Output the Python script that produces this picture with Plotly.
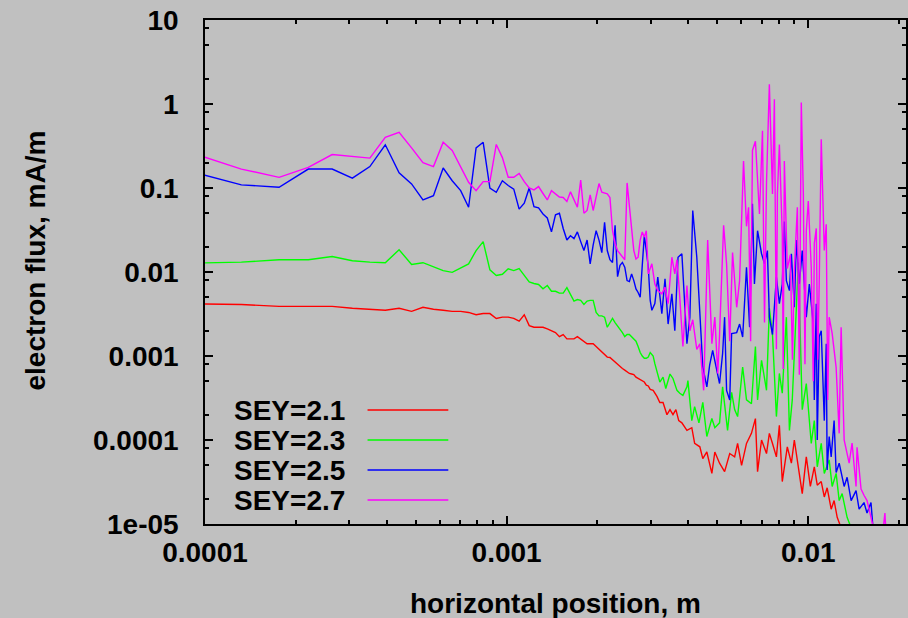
import numpy as np
import plotly.graph_objects as go

# Horizontal sample positions (mm) of the evenly spaced bins up to 3 mm
pos_head_mm = [0.088, 0.132, 0.176, 0.22, 0.264, 0.308, 0.352, 0.396, 0.44, 0.484,
               0.528, 0.572, 0.616, 0.66, 0.704, 0.748, 0.792, 0.836, 0.88, 0.924,
               0.968, 1.012, 1.056, 1.1, 1.144, 1.188, 1.232, 1.276, 1.32, 1.364,
               1.408, 1.452, 1.496, 1.54, 1.584, 1.628, 1.672, 1.716, 1.76, 1.804,
               1.848, 1.892, 1.936, 1.98, 2.024, 2.068, 2.112, 2.156, 2.2, 2.244,
               2.288, 2.332, 2.376, 2.42, 2.464, 2.508, 2.552, 2.596, 2.64, 2.684,
               2.728, 2.772, 2.816, 2.86, 2.904, 2.948, 2.992]

# ---- SEY = 2.1 (mA/m) ----
sey21_head = [0.0042, 0.0041, 0.0039, 0.0039, 0.0039, 0.0037, 0.0036, 0.0035, 0.0037, 0.0034,
              0.0038, 0.0036, 0.0035, 0.0034, 0.0034, 0.0033, 0.0031, 0.0032, 0.0032, 0.0028,
              0.0029, 0.0029, 0.0028, 0.0026, 0.0031, 0.0023, 0.0022, 0.0022, 0.0022, 0.0021,
              0.0020, 0.0019, 0.0017, 0.0018, 0.0016, 0.0016, 0.0016, 0.0017, 0.0016, 0.0015,
              0.0014, 0.0014, 0.0014, 0.0013, 0.0012, 0.0011, 0.00102, 0.00097, 0.00096, 0.0009,
              0.00084, 0.00079, 0.00074, 0.00071, 0.00068, 0.00064, 0.00062, 0.00061, 0.0006, 0.00056,
              0.00054, 0.00052, 0.0005, 0.00049, 0.00045, 0.00044, 0.0004]
sey21_tail_mm = [3.06, 3.15, 3.22, 3.30, 3.40, 3.48, 3.56, 3.64, 3.72, 3.81,
                 3.96, 4.11, 4.20, 4.37, 4.47, 4.61, 4.79, 4.90, 5.08, 5.28,
                 5.49, 5.70, 5.83, 6.01, 6.24, 6.48, 6.68, 6.79, 7.00, 7.27,
                 7.43, 7.61, 7.84, 8.02, 8.20, 8.52, 8.79, 8.99, 9.34, 9.55,
                 9.85, 10.16, 10.47, 10.71, 11.04, 11.30, 11.55, 11.91, 12.18, 12.47,
                 12.85]
sey21_tail = [0.00039, 0.00033, 0.00028, 0.00028, 0.0002, 0.00023, 0.0002, 0.00023, 0.00017, 0.00016,
              0.00013, 0.00014, 9.1e-5, 8.3e-5, 6.0e-5, 7.2e-5, 4.0e-5, 7.2e-5, 5.3e-5, 4.2e-5,
              6.9e-5, 6.3e-5, 9.1e-5, 5.0e-5, 9.1e-5, 1.2e-4, 1.8e-4, 4.2e-5, 1.0e-4, 6.9e-5,
              1.2e-4, 9.1e-5, 6.3e-5, 1.5e-4, 3.2e-5, 8.3e-5, 5.3e-5, 1.0e-4, 4.0e-5, 2.3e-5,
              6.3e-5, 2.8e-5, 4.8e-5, 2.9e-5, 3.2e-5, 2.1e-5, 2.7e-5, 1.5e-5, 1.9e-5, 1.2e-5,
              9e-6]

# ---- SEY = 2.3 ----
sey23_head = [0.0127, 0.0131, 0.014, 0.014, 0.0153, 0.0136, 0.0131, 0.0129, 0.0184, 0.0123,
              0.0129, 0.0116, 0.0104, 0.0099, 0.0113, 0.0125, 0.018, 0.023, 0.0106, 0.0091,
              0.0094, 0.0109, 0.0104, 0.011, 0.0091, 0.0076, 0.0073, 0.0071, 0.0063, 0.0069,
              0.0059, 0.0059, 0.0056, 0.0056, 0.0065, 0.0055, 0.0045, 0.0047, 0.0046, 0.0041,
              0.0045, 0.0046, 0.0046, 0.0033, 0.003, 0.003, 0.0029, 0.0022, 0.0025, 0.0028,
              0.0025, 0.0023, 0.0021, 0.0019, 0.0017, 0.0018, 0.0018, 0.0017, 0.0016, 0.0015,
              0.0013, 0.0011, 0.001, 0.00094, 0.00094, 0.00097, 0.0011]
sey23_tail_mm = [3.06, 3.10, 3.17, 3.22, 3.30, 3.37, 3.48, 3.56, 3.67, 3.75,
                 3.84, 3.96, 3.99, 4.11, 4.20, 4.34, 4.47, 4.61, 4.79, 4.90,
                 5.08, 5.20, 5.40, 5.57, 5.70, 5.83, 6.06, 6.24, 6.48, 6.68,
                 6.79, 7.00, 7.27, 7.43, 7.61, 7.84, 8.02, 8.20, 8.46, 8.66,
                 8.85, 9.27, 9.55, 9.85, 10.23, 10.47, 10.71, 11.04, 11.30, 11.73,
                 12.0, 12.37, 12.66, 12.95, 13.45, 13.87]
sey23_tail = [0.001, 0.00081, 0.00062, 0.00049, 0.00056, 0.00041, 0.00061, 0.00054, 0.00039, 0.00036,
              0.00034, 0.00043, 0.00051, 0.00017, 0.00025, 0.00016, 0.00028, 0.00011, 0.00018, 0.00014,
              0.00016, 0.00043, 0.00013, 0.00037, 0.00023, 0.00019, 0.00074, 0.0003, 0.00027, 0.0013,
              0.0003, 0.00089, 0.00039, 0.0037, 0.0018, 0.00019, 0.00062, 0.00036, 0.0029, 0.00013,
              0.0003, 0.013, 0.00023, 0.00047, 9.1e-5, 0.00017, 4.8e-5, 9.1e-5, 4.0e-5, 5.8e-5,
              2.8e-5, 4.0e-5, 1.9e-5, 2.3e-5, 1.2e-5, 9e-6]

# ---- SEY = 2.5 ----
sey25_head = [0.16, 0.109, 0.102, 0.168, 0.168, 0.131, 0.18, 0.327, 0.152, 0.112,
              0.072, 0.081, 0.173, 0.122, 0.093, 0.059, 0.3, 0.35, 0.1, 0.089,
              0.122, 0.107, 0.097, 0.056, 0.066, 0.1, 0.06, 0.058, 0.049, 0.044,
              0.03, 0.048, 0.05, 0.033, 0.024, 0.027, 0.025, 0.03, 0.023, 0.018,
              0.024, 0.0125, 0.021, 0.031, 0.024, 0.017, 0.039, 0.018, 0.014, 0.013,
              0.036, 0.0088, 0.012, 0.013, 0.0114, 0.0079, 0.0077, 0.0095, 0.0079, 0.0063,
              0.0057, 0.005, 0.012, 0.027, 0.018, 0.0114, 0.0046]
sey25_tail_mm = [3.03, 3.10, 3.17, 3.27, 3.35, 3.43, 3.53, 3.61, 3.70, 3.81,
                 3.96, 4.05, 4.14, 4.27, 4.37, 4.47, 4.61, 4.71, 4.82, 4.97,
                 5.08, 5.20, 5.28, 5.36, 5.49, 5.57, 5.79, 5.92, 6.06, 6.24,
                 6.39, 6.53, 6.63, 6.79, 7.00, 7.16, 7.32, 7.43, 7.61, 7.84,
                 8.02, 8.20, 8.33, 8.46, 8.66, 8.79, 8.99, 9.13, 9.34, 9.55,
                 9.85, 10.08, 10.39, 10.47, 10.63, 10.71, 10.87, 11.04, 11.30, 11.47,
                 11.55, 11.73, 11.91, 12.18, 12.37, 12.66, 13.15, 13.45, 13.87, 14.4,
                 14.74, 15.3, 15.66, 16.14, 16.39]
sey25_tail = [0.0035, 0.0042, 0.0087, 0.0032, 0.0083, 0.0024, 0.0055, 0.002, 0.015, 0.0165,
              0.0014, 0.0029, 0.054, 0.015, 0.0032, 0.00074, 0.00043, 0.00078, 0.00117, 0.00068,
              0.00047, 0.00107, 0.0029, 0.00039, 0.0003, 0.00185, 0.0019, 0.0024, 0.00168, 0.0114,
              0.0022, 0.065, 0.0072, 0.031, 0.0165, 0.0125, 0.018, 0.0029, 0.0018, 0.0087,
              0.0042, 0.0072, 0.04, 0.0079, 0.006, 0.0165, 0.0038, 0.024, 0.0072, 0.018,
              0.0029, 0.0072, 0.0024, 0.0003, 0.0042, 0.0001, 0.0017, 0.002, 0.00017, 0.0014,
              4.4e-5, 0.00011, 6.3e-5, 0.00017, 4.1e-5, 5.3e-5, 2.8e-5, 3.6e-5, 1.9e-5, 2.5e-5,
              1.5e-5, 1.8e-5, 1.35e-5, 1.8e-5, 9e-6]

# ---- SEY = 2.7 ----
sey27_head = [0.27, 0.168, 0.134, 0.176, 0.25, 0.24, 0.227, 0.4, 0.46, 0.3,
              0.2, 0.18, 0.35, 0.28, 0.18, 0.117, 0.093, 0.119, 0.119, 0.33,
              0.23, 0.134, 0.134, 0.149, 0.119, 0.1, 0.095, 0.104, 0.086, 0.072,
              0.093, 0.086, 0.078, 0.077, 0.069, 0.09, 0.071, 0.059, 0.124, 0.05,
              0.054, 0.083, 0.054, 0.081, 0.113, 0.089, 0.086, 0.085, 0.077, 0.031,
              0.022, 0.018, 0.0165, 0.0149, 0.014, 0.115, 0.062, 0.031, 0.018, 0.0143,
              0.015, 0.024, 0.03, 0.026, 0.031, 0.0095, 0.011]
sey27_tail_mm = [3.03, 3.10, 3.17, 3.27, 3.35, 3.43, 3.50, 3.53, 3.61, 3.67,
                 3.75, 3.84, 3.96, 4.05, 4.14, 4.27, 4.37, 4.50, 4.64, 4.79,
                 4.90, 5.01, 5.08, 5.24, 5.36, 5.49, 5.61, 5.79, 5.92, 6.10,
                 6.24, 6.34, 6.44, 6.53, 6.68, 6.79, 6.89, 7.05, 7.16, 7.27,
                 7.43, 7.61, 7.72, 7.84, 7.90, 8.02, 8.20, 8.26, 8.33, 8.52,
                 8.72, 8.86, 8.99, 9.20, 9.34, 9.48, 9.63, 9.75, 9.85, 10.0,
                 10.23, 10.39, 10.47, 10.63, 10.75, 10.87, 11.04, 11.30, 11.47, 11.6,
                 11.73, 12.0, 12.37, 12.66, 12.85, 13.15, 13.66, 13.97, 14.4, 14.51,
                 14.96, 15.3, 15.66, 16.14, 16.51, 17.15, 17.95, 18.37]
sey27_tail = [0.0125, 0.0072, 0.006, 0.0055, 0.0066, 0.0042, 0.0104, 0.015, 0.0095, 0.014,
              0.005, 0.0013, 0.0069, 0.002, 0.0027, 0.0012, 0.0014, 0.00039, 0.024, 0.0014,
              0.0029, 0.00062, 0.0018, 0.036, 0.0125, 0.0015, 0.017, 0.0038, 0.0079, 0.21,
              0.035, 0.059, 0.0015, 0.28, 0.36, 0.134, 0.049, 0.48, 0.0025, 0.116,
              1.72, 0.085, 1.14, 0.0012, 0.085, 0.33, 0.028, 0.0007, 0.21, 0.011,
              0.016, 0.0009, 0.0104, 0.059, 0.0006, 1.04, 0.085, 0.0008, 0.031, 0.07,
              0.0114, 0.0005, 0.022, 0.033, 0.0009, 0.0072, 0.38, 0.018, 0.037, 0.0003,
              0.0029, 0.00186, 0.00073, 1.2e-4, 0.0022, 1e-4, 5.3e-5, 9.2e-5, 2.8e-5, 8.2e-5,
              2.6e-5, 2.2e-5, 1.9e-5, 1.2e-5, 8.5e-6, 3e-6, 1.35e-5, 3e-6]

series_names = ["SEY=2.1", "SEY=2.3", "SEY=2.5", "SEY=2.7"]
series_colors = ["#ff0000", "#00ff00", "#0000ff", "#ff00ff"]
series_data = [
    (sey21_head, sey21_tail_mm, sey21_tail),
    (sey23_head, sey23_tail_mm, sey23_tail),
    (sey25_head, sey25_tail_mm, sey25_tail),
    (sey27_head, sey27_tail_mm, sey27_tail),
]

x_tick_vals = [1e-4, 1e-3, 1e-2]
x_tick_text = ["0.0001", "0.001", "0.01"]
y_tick_vals = [1e-5, 1e-4, 1e-3, 1e-2, 1e-1, 1, 10]
y_tick_text = ["1e-05", "0.0001", "0.001", "0.01", "0.1", "1", "10"]

BG = "#c0c0c0"
FONT = "Liberation Sans, Arial, Helvetica, sans-serif"
FS = 28
TXT = dict(family=FONT, size=FS, color="black", weight="bold")

W, H = 908, 618
ML, MR, MT, MB = 205, 0, 20, 94
PW, PH = W - ML - MR, H - MT - MB

fig = go.Figure()
for name, color, (head, tail_mm, tail) in zip(series_names, series_colors, series_data):
    assert len(head) == len(pos_head_mm) and len(tail) == len(tail_mm)
    x_m = np.array(pos_head_mm + tail_mm) * 1e-3
    y = np.array(head + tail)
    fig.add_trace(go.Scatter(x=x_m, y=y, mode="lines", name=name,
                             line=dict(color=color, width=1.4), showlegend=False))

# minor ticks: 2..9 per decade on x, 2/5/8 per decade on y
x_minor = [m * 10.0 ** e for e in (-4, -3, -2) for m in range(2, 10)]
y_minor = [m * 10.0 ** e for e in range(-5, 1) for m in (2, 5, 8)]

axis_common = dict(type="log", showgrid=False, zeroline=False, showline=True,
                   linecolor="black", linewidth=1.5, mirror="allticks",
                   ticks="inside", ticklen=8, tickwidth=1.5, tickcolor="black",
                   tickmode="array", tickfont=TXT)

x_hi = -4 + PW / 302.5
fig.update_xaxes(**axis_common, range=[-4, x_hi], tickvals=x_tick_vals,
                 ticktext=x_tick_text, ticklabelstandoff=3,
                 minor=dict(tickmode="array", tickvals=x_minor, ticks="inside",
                            ticklen=4, tickwidth=1.5, tickcolor="black"))
fig.update_yaxes(**axis_common, range=[-5, 1], tickvals=y_tick_vals,
                 ticktext=y_tick_text, ticklabelstandoff=19,
                 minor=dict(tickmode="array", tickvals=y_minor, ticks="inside",
                            ticklen=4, tickwidth=1.5, tickcolor="black"))


def px_x(px):
    return (px - ML) / PW


def px_y(py):
    return (H - MB - py) / PH


annotations = [
    dict(text="horizontal position, m", x=0.5, y=px_y(603), xref="paper", yref="paper",
         xanchor="center", yanchor="middle", showarrow=False, font=TXT),
    dict(text="electron flux, mA/m", x=px_x(35), y=px_y(260), xref="paper", yref="paper",
         xanchor="center", yanchor="middle", textangle=-90, showarrow=False, font=TXT),
]
shapes = []
legend_rows = [410, 440, 470, 500]
for name, color, row in zip(series_names, series_colors, legend_rows):
    annotations.append(dict(text=name, x=px_x(347), y=px_y(row), xref="paper", yref="paper",
                            xanchor="right", yanchor="middle", showarrow=False, font=TXT))
    shapes.append(dict(type="line", xref="paper", yref="paper",
                       x0=px_x(368), x1=px_x(449), y0=px_y(row), y1=px_y(row),
                       line=dict(color=color, width=1.4)))

fig.update_layout(width=W, height=H, margin=dict(l=ML, r=MR, t=MT, b=MB, pad=0),
                  paper_bgcolor=BG, plot_bgcolor=BG, showlegend=False,
                  annotations=annotations, shapes=shapes, font=TXT)

fig.write_html("out.html")
